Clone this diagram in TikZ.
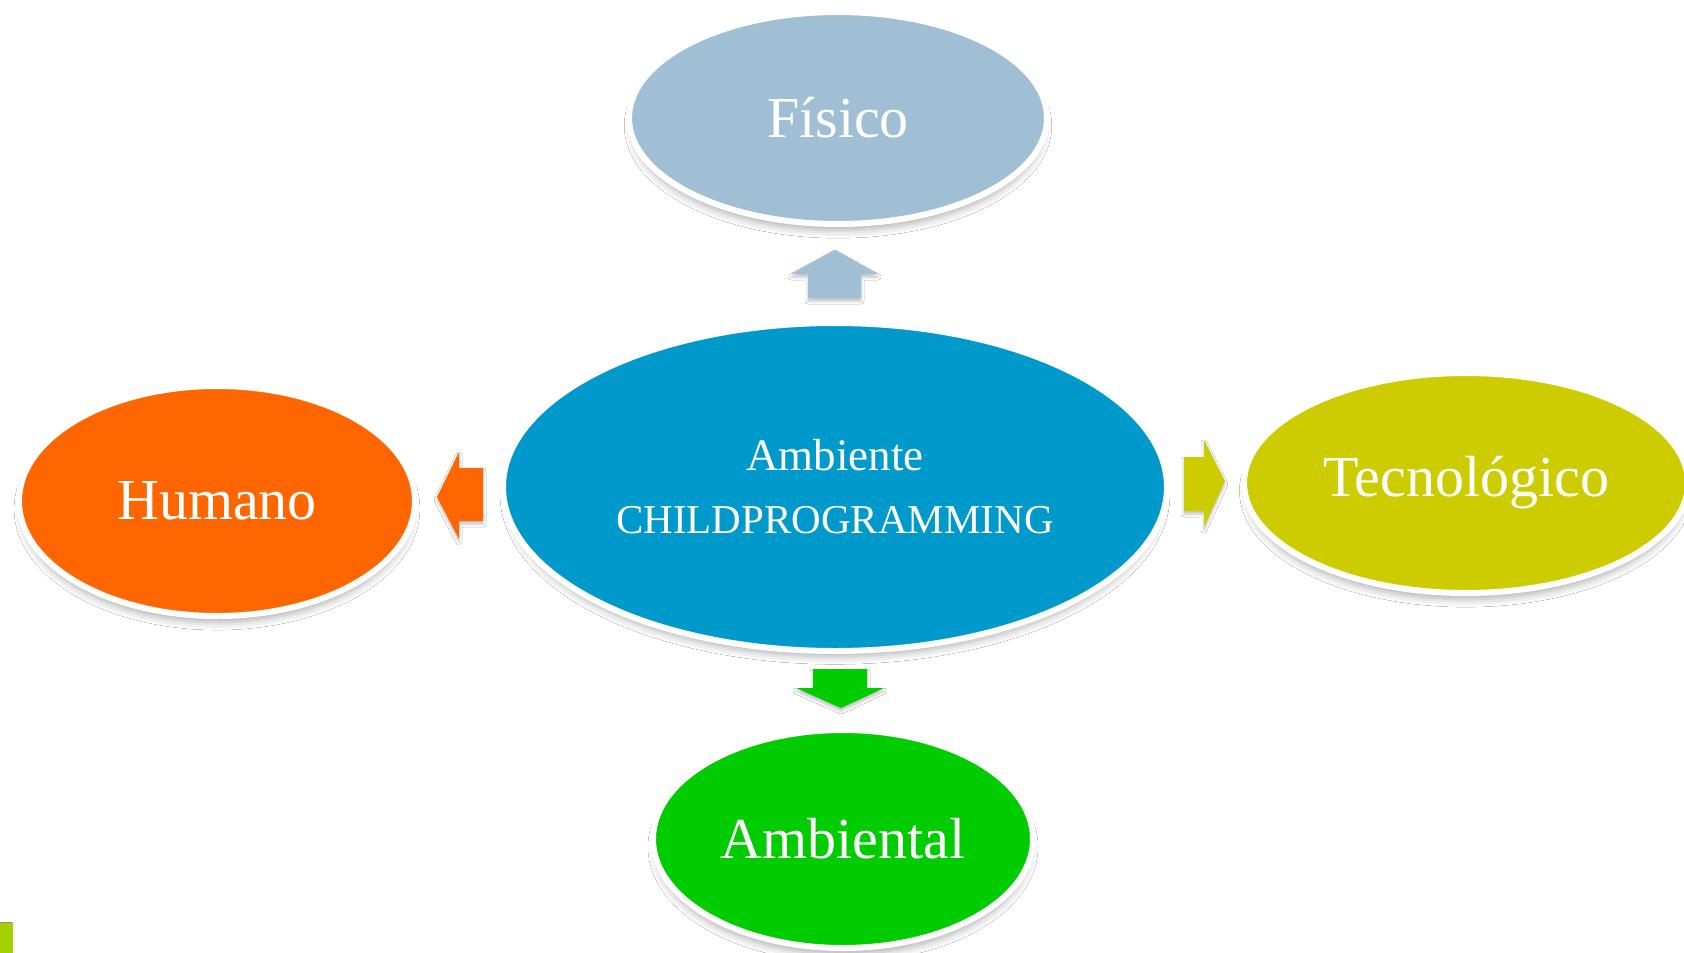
\documentclass[tikz,border=0pt]{standalone}
\usepackage{fontspec}
\setmainfont{Liberation Serif}
\usetikzlibrary{shapes.geometric,shadows.blur}
\definecolor{cfis}{HTML}{A0BED4}
\definecolor{ccen}{HTML}{0099CC}
\definecolor{chum}{HTML}{FF6600}
\definecolor{ctec}{HTML}{CCCC00}
\definecolor{camb}{HTML}{00CC00}
\definecolor{cmark}{HTML}{A4D000}
\tikzset{
  oval/.style={ellipse, draw=white, line width=6pt, inner sep=0pt, text=white,
    blur shadow={shadow xshift=0pt, shadow yshift=-8pt, shadow scale=0.985, shadow blur radius=8pt, shadow opacity=32}},
  blockarrow/.style={blur shadow={shadow xshift=0pt, shadow yshift=-3pt, shadow blur radius=3pt, shadow opacity=25}},
  big/.style={font=\fontsize{58}{62}\selectfont}
}
\begin{document}
\begin{tikzpicture}[x=1pt,y=-1pt]
\useasboundingbox (0,0) rectangle (1684,953);
\clip (0,0) rectangle (1684,953);
\fill[white] (0,0) rectangle (1684,953);
% ellipses
\node[oval, fill=cfis, minimum width=418pt, minimum height=212pt, big] (fis) at (838,118) {Físico};
\node[oval, fill=ccen, minimum width=664pt, minimum height=328pt, align=center,
  font=\fontsize{41}{63}\selectfont] (cen) at (835,487) {{\fontsize{45}{63}\selectfont Ambiente}\\CHILDPROGRAMMING};
\node[oval, fill=chum, minimum width=396pt, minimum height=230pt, big] (hum) at (217,501) {Humano};
\node[oval, fill=ctec, minimum width=444pt, minimum height=220pt, big] (tec) at (1466,483) {Tecnológico};
\node[oval, fill=camb, minimum width=380pt, minimum height=218pt, big] (amb) at (843,839) {Ambiental};
% block arrows
\fill[cfis, blockarrow] (835,250) -- (878,274) -- (861,274) -- (861,298) -- (808,298) -- (808,274) -- (791,274) -- cycle;
\fill[chum, blockarrow] (437,497) -- (459,452) -- (459,468) -- (483,468) -- (483,521) -- (459,521) -- (459,539) -- cycle;
\fill[ctec, blockarrow] (1225,481) -- (1204,527) -- (1204,511) -- (1184,511) -- (1184,457) -- (1204,457) -- (1204,440) -- cycle;
\fill[camb, blockarrow] (841,708) -- (884,688) -- (867,688) -- (867,669) -- (813,669) -- (813,688) -- (796,688) -- cycle;
% corner mark
\fill[cmark] (0,922) rectangle (13,953);
\draw[black!45, line width=1pt] (0,922.5) -- (12,922.5);
\end{tikzpicture}
\end{document}
